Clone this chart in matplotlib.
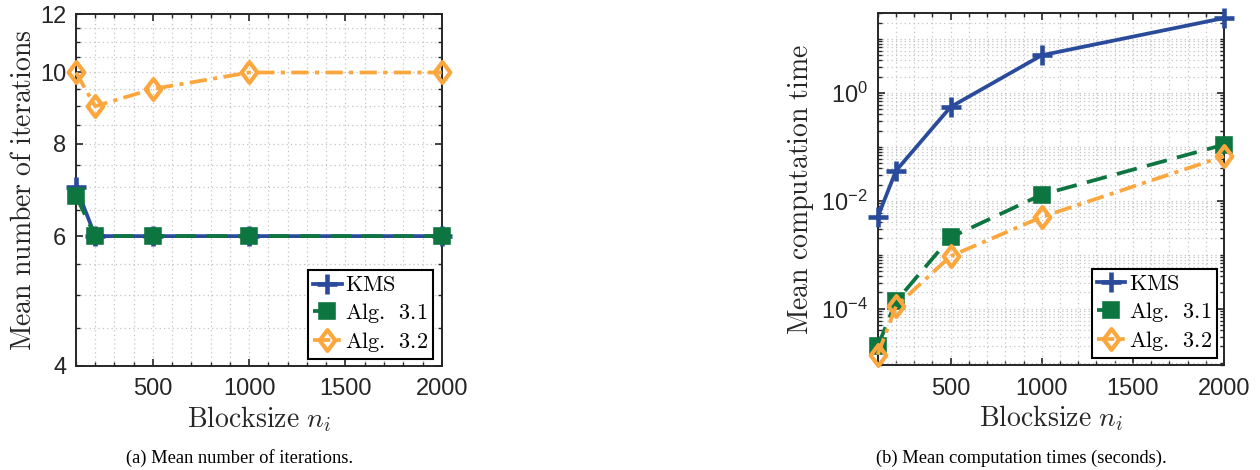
import numpy as np
import matplotlib
matplotlib.use("Agg")
import matplotlib.pyplot as plt
from matplotlib.path import Path
from matplotlib.ticker import FixedLocator, FixedFormatter, NullFormatter, LogLocator

# ---------------- data ----------------
sizes = [100, 200, 500, 1000, 2000]
series_names = ["KMS", "Alg. 3.1", "Alg. 3.2"]

iter_kms = [7.0, 6.0, 6.0, 6.0, 6.0]
iter_alg31 = [6.8, 6.0, 6.0, 6.0, 6.0]
iter_alg32 = [10.0, 9.0, 9.5, 10.0, 10.0]

time_kms = [5.0e-3, 3.6e-2, 0.55, 5.0, 24.5]
time_alg31 = [2.0e-5, 1.36e-4, 2.1e-3, 1.3e-2, 0.11]
time_alg32 = [1.4e-5, 1.1e-4, 9.4e-4, 5.0e-3, 0.067]

x_ticks = [500, 1000, 1500, 2000]
iter_yticks = [4, 6, 8, 10, 12]
iter_yticklabels = ["4", "6", "8", "10", "12"]
time_yticks = [1e-4, 1e-2, 1e0]
time_yticklabels = [r"$10^{-4}$", r"$10^{-2}$", r"$10^{0}$"]

caption_a = "(a) Mean number of iterations."
caption_b = "(b) Mean computation times (seconds)."

# ---------------- style ----------------
plt.rcParams["font.family"] = ["Liberation Sans", "DejaVu Sans"]
plt.rcParams["mathtext.fontset"] = "custom"
plt.rcParams["mathtext.rm"] = "Liberation Sans"
plt.rcParams["mathtext.it"] = "Liberation Sans:italic"
plt.rcParams["mathtext.bf"] = "Liberation Sans:bold"

DARK = "#262626"
C_KMS = "#2A4B9B"
C_A31 = "#0D7540"
C_A32 = "#FBA73E"
GRID = "#C4C4C4"

# MATLAB-like diamond (taller than wide)
diamond = Path([(0, 1), (0.75, 0), (0, -1), (-0.75, 0), (0, 1)],
               [Path.MOVETO, Path.LINETO, Path.LINETO, Path.LINETO, Path.CLOSEPOLY])

fig = plt.figure(figsize=(12.6, 4.7), dpi=100)
ax1 = fig.add_axes([0.0603, 0.2213, 0.2903, 0.7487])
ax2 = fig.add_axes([0.6966, 0.2234, 0.2748, 0.7483])

styles = [
    dict(color=C_KMS, ls="-", marker="+", ms=14, mew=3.3, lw=2.7),
    dict(color=C_A31, ls=(0, (5.5, 2.8)), marker="s", ms=9.5, mew=2.6, lw=2.7,
         mfc=C_A31),
    dict(color=C_A32, ls=(0, (4.6, 1.7, 1.1, 1.7)), marker=diamond, ms=15, mew=3.0,
         lw=2.7, mfc="none"),
]

label_font = 20
tick_font = 17


def style_axes(ax):
    for sp in ax.spines.values():
        sp.set_color(DARK)
        sp.set_linewidth(1.4)
    ax.tick_params(which="both", direction="in", top=True, right=True,
                   colors=DARK, labelcolor=DARK, labelsize=tick_font)
    ax.tick_params(which="major", length=5, width=1.2)
    ax.tick_params(axis="x", which="major", pad=9)
    ax.tick_params(axis="y", which="major", pad=7)
    ax.tick_params(which="minor", length=3, width=1.0)
    ax.grid(True, which="both", ls=(0, (1, 2.5)), color=GRID, lw=0.9)
    ax.set_axisbelow(True)
    ax.set_xlim(100, 2000)
    ax.xaxis.set_major_locator(FixedLocator(x_ticks))
    ax.xaxis.set_minor_locator(FixedLocator(list(range(100, 2001, 100))))
    ax.xaxis.set_minor_formatter(NullFormatter())
    ax.set_xlabel(r"$\mathrm{Blocksize}\ n_i$", fontsize=label_font,
                  color=DARK, math_fontfamily="cm", labelpad=3)


def add_legend(ax, anchor):
    leg = ax.legend(loc="lower right", bbox_to_anchor=anchor,
                    borderaxespad=0.0, fancybox=False, framealpha=1.0,
                    edgecolor="black", handlelength=1.3, handletextpad=0.15,
                    borderpad=0.22, labelspacing=0.22,
                    prop={"size": 16})
    leg.get_frame().set_linewidth(1.5)
    for t in leg.get_texts():
        t.set_math_fontfamily("cm")
        t.set_color("black")
    return leg


def mlabel(s):
    return r"$\mathrm{" + s.replace(" ", r"\ \,") + "}$"


def draw(ax, series):
    for vals, name, st in zip(series, series_names, styles):
        ax.plot(sizes, vals, label=mlabel(name), clip_on=False, zorder=3, **st)


# ----- left: iterations -----
draw(ax1, [iter_kms, iter_alg31, iter_alg32])
ax1.set_yscale("log")
ax1.set_ylim(4, 12)
ax1.yaxis.set_major_locator(FixedLocator(iter_yticks))
ax1.yaxis.set_major_formatter(FixedFormatter(iter_yticklabels))
ax1.yaxis.set_minor_locator(FixedLocator([4.5, 5, 5.5, 6.5, 7, 7.5, 8.5, 9, 9.5,
                                          10.5, 11, 11.5]))
ax1.yaxis.set_minor_formatter(NullFormatter())
style_axes(ax1)
ax1.set_ylabel(r"$\mathrm{Mean\ number\ of\ iterations}$", fontsize=label_font,
               color=DARK, math_fontfamily="cm", labelpad=2)
add_legend(ax1, (0.976, 0.02))

# ----- right: times -----
draw(ax2, [time_kms, time_alg31, time_alg32])
ax2.set_yscale("log")
ax2.set_ylim(9e-6, 30)
ax2.yaxis.set_major_locator(FixedLocator(time_yticks))
ax2.yaxis.set_major_formatter(FixedFormatter(time_yticklabels))
ax2.yaxis.set_minor_locator(LogLocator(base=10, subs=np.arange(1, 10), numticks=30))
ax2.yaxis.set_minor_formatter(NullFormatter())
style_axes(ax2)
ax2.set_ylabel(r"$\mathrm{Mean\ computation\ time}$", fontsize=label_font,
               color=DARK, math_fontfamily="cm", labelpad=4)
add_legend(ax2, (0.979, 0.021))

# ----- captions -----
fig.text(0.19, 0.0255, caption_a, ha="center", va="center", fontsize=13.3,
         family=["Liberation Serif", "DejaVu Serif"], color="black")
fig.text(0.811, 0.0255, caption_b, ha="center", va="center", fontsize=13.3,
         family=["Liberation Serif", "DejaVu Serif"], color="black")

fig.savefig("out.png", dpi=100)
